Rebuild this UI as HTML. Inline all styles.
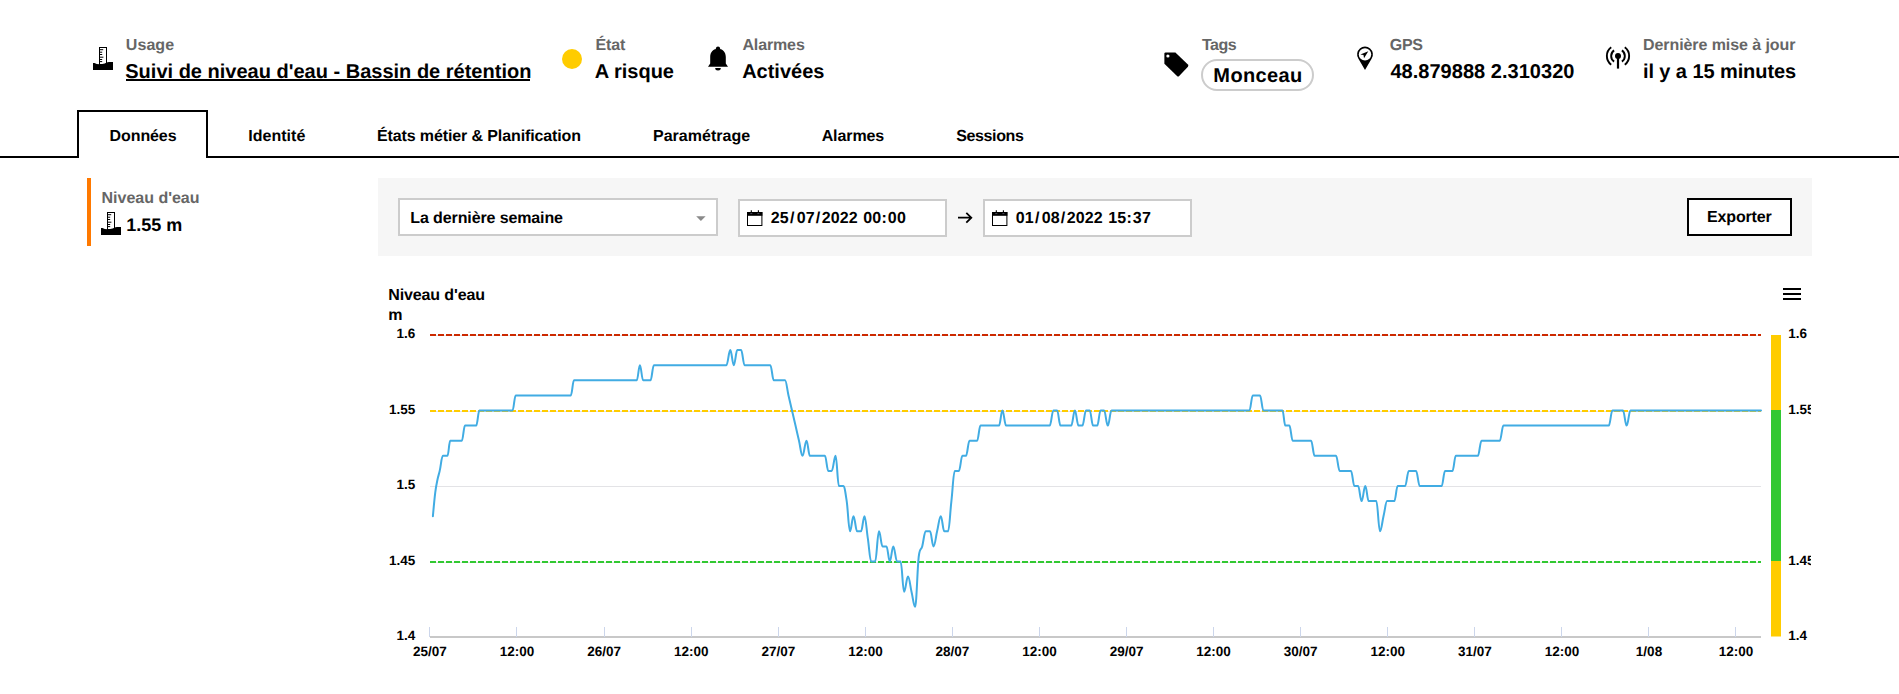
<!DOCTYPE html>
<html lang="fr"><head><meta charset="utf-8"><title>Suivi de niveau d'eau - Bassin de rétention</title>
<style>
*{margin:0;padding:0;box-sizing:border-box}
html,body{width:1899px;height:694px;overflow:hidden;background:#fff}
body{font-family:"Liberation Sans",sans-serif;font-weight:bold;color:#000;position:relative;text-rendering:geometricPrecision}
.t{position:absolute;display:block;white-space:nowrap;line-height:1;color:inherit;text-decoration:none}
header,nav,aside,main,section{display:block;position:static}
.t.lbl{color:#666}
.abs{position:absolute}
</style></head><body>

<!-- tab lines -->
<div class="abs" style="left:0;top:156px;width:79px;height:2px;background:#000"></div>
<div class="abs" style="left:206px;top:156px;width:1693px;height:2px;background:#000"></div>
<div class="abs" style="left:77px;top:110px;width:131px;height:48px;border:2px solid #000;border-bottom:none"></div>
<!-- title underline -->
<div class="abs" style="left:126px;top:79px;width:404px;height:2px;background:#000"></div>
<!-- yellow dot -->
<div class="abs" style="left:562px;top:49px;width:20px;height:20px;border-radius:50%;background:#ffcc00"></div>
<!-- tag pill -->
<div class="abs" style="left:1201px;top:59px;width:113px;height:32px;border:2px solid #ccc;border-radius:16px"></div>
<!-- orange bar -->
<div class="abs" style="left:87px;top:178px;width:4px;height:68px;background:#ff7900"></div>
<!-- filter bar -->
<div class="abs" style="left:378px;top:178px;width:1434px;height:78px;background:#f6f6f6"></div>
<div class="abs" style="left:398px;top:198px;width:320px;height:38px;border:2px solid #ccc;background:#fff"></div>
<div class="abs" style="left:738px;top:199px;width:209px;height:38px;border:2px solid #ccc;background:#fff"></div>
<div class="abs" style="left:983px;top:199px;width:209px;height:38px;border:2px solid #ccc;background:#fff"></div>
<div class="abs" style="left:1687px;top:198px;width:105px;height:38px;border:2px solid #000;background:#fff"></div>

<header>
<span class="t lbl" style="left:125.83px;top:38px;font-size:16px;letter-spacing:0.063px">Usage</span>
<span class="t " style="left:125.29px;top:62px;font-size:20px;letter-spacing:0.003px">Suivi de niveau d'eau - Bassin de rétention</span>
<span class="t lbl" style="left:595.38px;top:38px;font-size:16px;letter-spacing:-0.115px">État</span>
<span class="t " style="left:594.69px;top:62px;font-size:20px;letter-spacing:0.003px">A risque</span>
<span class="t lbl" style="left:742.46px;top:38px;font-size:16px;letter-spacing:-0.138px">Alarmes</span>
<span class="t " style="left:742.17px;top:62px;font-size:20px;letter-spacing:-0.01px">Activées</span>
<span class="t lbl" style="left:1202.0px;top:38px;font-size:16px;letter-spacing:-0.466px">Tags</span>
<span class="t " style="left:1213.37px;top:66px;font-size:20px;letter-spacing:0.373px">Monceau</span>
<span class="t lbl" style="left:1389.86px;top:38px;font-size:16px;letter-spacing:-0.421px">GPS</span>
<span class="t " style="left:1390.39px;top:62px;font-size:20px;letter-spacing:0.031px">48.879888 2.310320</span>
<span class="t lbl" style="left:1642.96px;top:38px;font-size:16px;letter-spacing:-0.068px">Dernière mise à jour</span>
<span class="t " style="left:1642.91px;top:62px;font-size:20px;letter-spacing:-0.08px">il y a 15 minutes</span>
</header>
<nav>
<a class="t " style="left:109.6px;top:129px;font-size:16px;letter-spacing:-0.106px">Données</a>
<a class="t " style="left:248.37px;top:129px;font-size:16px;letter-spacing:0.005px">Identité</a>
<a class="t " style="left:376.98px;top:129px;font-size:16px;letter-spacing:-0.114px">États métier &amp; Planification</a>
<a class="t " style="left:652.98px;top:129px;font-size:16px;letter-spacing:0.028px">Paramétrage</a>
<a class="t " style="left:821.64px;top:129px;font-size:16px;letter-spacing:-0.084px">Alarmes</a>
<a class="t " style="left:956.33px;top:129px;font-size:16px;letter-spacing:-0.4px">Sessions</a>
</nav>
<aside>
<span class="t lbl" style="left:101.5px;top:191px;font-size:16px;letter-spacing:-0.002px">Niveau d'eau</span>
<span class="t " style="left:126.27px;top:216px;font-size:18px;letter-spacing:0.003px">1.55 m</span>
</aside>
<main>
<section class="filters">
<span class="t " style="left:410.37px;top:211px;font-size:16px;letter-spacing:-0.119px">La dernière semaine</span>
<span class="t " style="left:770.75px;top:211px;font-size:16px;letter-spacing:0.15px">25</span>
<span class="t " style="left:790.0px;top:211px;font-size:16px;letter-spacing:0px">/</span>
<span class="t " style="left:796.65px;top:211px;font-size:16px;letter-spacing:0.15px">07</span>
<span class="t " style="left:815.63px;top:211px;font-size:16px;letter-spacing:0px">/</span>
<span class="t " style="left:821.65px;top:211px;font-size:16px;letter-spacing:0.15px">2022</span>
<span class="t " style="left:863.25px;top:211px;font-size:16px;letter-spacing:0.15px">00</span>
<span class="t " style="left:881.6px;top:211px;font-size:16px;letter-spacing:0px">:</span>
<span class="t " style="left:887.85px;top:211px;font-size:16px;letter-spacing:0.15px">00</span>
<span class="t " style="left:1706.98px;top:210px;font-size:16px;letter-spacing:-0.142px">Exporter</span>
<span class="t" style="left:1015.75px;top:211px;font-size:16px;letter-spacing:0.15px">01</span>
<span class="t" style="left:1035.0px;top:211px;font-size:16px;letter-spacing:0px">/</span>
<span class="t" style="left:1041.65px;top:211px;font-size:16px;letter-spacing:0.15px">08</span>
<span class="t" style="left:1060.63px;top:211px;font-size:16px;letter-spacing:0px">/</span>
<span class="t" style="left:1066.65px;top:211px;font-size:16px;letter-spacing:0.15px">2022</span>
<span class="t" style="left:1108.25px;top:211px;font-size:16px;letter-spacing:0.15px">15</span>
<span class="t" style="left:1126.6px;top:211px;font-size:16px;letter-spacing:0px">:</span>
<span class="t" style="left:1132.85px;top:211px;font-size:16px;letter-spacing:0.15px">37</span>
</section>
<section class="chart">
<span class="t " style="left:388.21px;top:288px;font-size:16px;letter-spacing:-0.11px">Niveau d'eau</span>
<span class="t " style="left:388.24px;top:308px;font-size:16px;letter-spacing:0px">m</span>
<svg class="abs" style="left:0;top:270px" width="1811" height="424" viewBox="0 270 1811 424" font-family="Liberation Sans, sans-serif" font-weight="bold" text-rendering="geometricPrecision">
<path d="M430 335.5H1761M430 411.5H1761M430 486.5H1761M430 562.5H1761" stroke="#e3e3e6" stroke-width="1"/>
<path d="M430 637H1761" stroke="#c8c8c8" stroke-width="2"/>
<path d="M429.5 627V637M516.5 627V637M604.5 627V637M691.5 627V637M778.5 627V637M865.5 627V637M952.5 627V637M1039.5 627V637M1126.5 627V637M1213.5 627V637M1300.5 627V637M1387.5 627V637M1474.5 627V637M1561.5 627V637M1648.5 627V637M1735.5 627V637" stroke="#ccd6eb" stroke-width="1"/>
<path d="M430 335H1761" stroke="#cc2900" stroke-width="2" stroke-dasharray="6 2"/>
<path d="M430 411H1761" stroke="#ffcc00" stroke-width="2" stroke-dasharray="6 2"/>
<path d="M430 562H1761" stroke="#32c832" stroke-width="2" stroke-dasharray="6 2"/>
<path d="M432.9 516.2C432.9 516.2 434.3 500.2 435.2 492.8C436.1 485.7 436.5 484.3 437.4 480.0C438.3 475.5 438.8 474.9 439.7 470.9C441.0 465.3 441.6 455.8 442.9 455.8L447.5 455.8C448.6 455.8 449.1 440.7 450.2 440.7L461.8 440.7C463.1 440.7 463.7 425.6 465.0 425.6L476.2 425.6C477.5 425.6 478.1 410.5 479.4 410.5L512.5 410.5C513.8 410.5 514.4 395.4 515.7 395.4L570.8 395.4C572.1 395.4 572.7 380.3 574.0 380.3L636.8 380.3C638.0 380.3 638.7 365.2 639.9 365.2C641.2 365.2 641.8 380.3 643.1 380.3L650.5 380.3C651.9 380.3 652.5 365.2 653.9 365.2L726.4 365.2C728.0 365.2 728.7 350.1 730.3 350.1C731.7 350.1 732.4 365.2 733.8 365.2C735.2 365.2 735.9 350.1 737.3 350.1L741.1 350.1C742.5 350.1 743.2 365.2 744.6 365.2L770.3 365.2C771.7 365.2 772.4 380.3 773.8 380.3L785.0 380.3C786.4 380.3 787.1 389.4 788.5 395.4C789.9 401.4 790.6 404.5 792.0 410.5C793.4 416.5 794.1 419.6 795.5 425.6C796.9 431.6 797.6 434.7 799.0 440.7C800.4 446.7 801.1 455.8 802.5 455.8C804.1 455.8 804.9 440.7 806.5 440.7C807.9 440.7 808.5 455.8 809.9 455.8L824.9 455.8C826.3 455.8 826.9 470.9 828.3 470.9L831.7 470.9C833.3 470.9 834.0 455.8 835.6 455.8C836.9 455.8 837.6 486.0 838.9 486.0L843.2 486.0C844.6 486.0 845.3 491.8 846.7 501.1C848.0 509.9 848.7 531.3 850.0 531.3C851.4 531.3 852.1 516.2 853.5 516.2C854.9 516.2 855.7 531.3 857.1 531.3L861.0 531.3C862.4 531.3 863.1 516.2 864.5 516.2C865.8 516.2 866.5 529.8 867.9 538.9C869.2 547.9 869.9 561.5 871.2 561.5L875.1 561.5C876.7 561.5 877.4 531.3 879.0 531.3C880.4 531.3 881.1 546.4 882.5 546.4L886.5 546.4C887.8 546.4 888.5 561.5 889.8 561.5C891.2 561.5 891.9 546.4 893.3 546.4C894.8 546.4 895.6 561.5 897.1 561.5L900.6 561.5C902.0 561.5 902.7 591.7 904.1 591.7C905.7 591.7 906.4 576.6 908.0 576.6C909.4 576.6 910.1 585.7 911.5 591.7C913.0 597.7 913.7 606.8 915.1 606.8C916.6 606.8 917.4 564.6 918.9 555.5C920.2 546.4 920.9 551.1 922.2 546.4C923.6 541.4 924.3 531.3 925.7 531.3L930.0 531.3C931.4 531.3 932.1 546.4 933.5 546.4C935.0 546.4 935.7 537.3 937.1 531.3C938.6 525.3 939.3 516.2 940.8 516.2C942.2 516.2 942.9 531.3 944.3 531.3L948.0 531.3C949.4 531.3 950.0 513.2 951.4 501.1C952.8 489.0 953.4 470.9 954.8 470.9L958.9 470.9C960.3 470.9 961.0 455.8 962.4 455.8L966.0 455.8C967.4 455.8 968.1 440.7 969.5 440.7L977.1 440.7C978.5 440.7 979.1 425.6 980.5 425.6L999.0 425.6C1000.4 425.6 1001.0 410.5 1002.4 410.5C1003.9 410.5 1004.6 425.6 1006.1 425.6L1049.7 425.6C1051.2 425.6 1051.9 410.5 1053.4 410.5L1057.1 410.5C1058.5 410.5 1059.1 425.6 1060.5 425.6L1071.2 425.6C1072.7 425.6 1073.4 410.5 1074.9 410.5C1076.3 410.5 1077.1 425.6 1078.5 425.6L1082.4 425.6C1083.8 425.6 1084.6 410.5 1086.0 410.5L1089.7 410.5C1091.1 410.5 1091.7 425.6 1093.1 425.6L1097.2 425.6C1098.6 425.6 1099.2 410.5 1100.6 410.5L1104.1 410.5C1105.6 410.5 1106.3 425.6 1107.8 425.6C1109.3 425.6 1110.0 410.5 1111.5 410.5L1249.4 410.5C1250.8 410.5 1251.4 395.4 1252.8 395.4L1260.0 395.4C1261.4 395.4 1262.0 410.5 1263.4 410.5L1282.5 410.5C1283.6 410.5 1284.2 425.6 1285.3 425.6L1289.4 425.6C1290.7 425.6 1291.4 440.7 1292.7 440.7L1311.1 440.7C1312.5 440.7 1313.2 455.8 1314.6 455.8L1336.0 455.8C1337.5 455.8 1338.2 470.9 1339.7 470.9L1351.0 470.9C1352.4 470.9 1353.0 486.0 1354.4 486.0L1358.1 486.0C1359.5 486.0 1360.2 501.1 1361.6 501.1C1363.1 501.1 1363.8 486.0 1365.3 486.0C1366.7 486.0 1367.3 501.1 1368.7 501.1L1376.3 501.1C1377.8 501.1 1378.5 531.3 1380.0 531.3C1381.4 531.3 1382.1 522.2 1383.5 516.2C1385.0 510.2 1385.7 501.1 1387.1 501.1L1394.3 501.1C1395.7 501.1 1396.3 486.0 1397.7 486.0L1405.1 486.0C1406.6 486.0 1407.3 470.9 1408.8 470.9L1416.1 470.9C1417.5 470.9 1418.3 486.0 1419.7 486.0L1441.7 486.0C1443.0 486.0 1443.7 470.9 1445.0 470.9L1452.5 470.9C1453.8 470.9 1454.5 455.8 1455.8 455.8L1477.9 455.8C1479.3 455.8 1480.1 440.7 1481.5 440.7L1499.8 440.7C1501.2 440.7 1502.0 425.6 1503.4 425.6L1608.8 425.6C1610.2 425.6 1611.0 410.5 1612.4 410.5L1623.0 410.5C1624.4 410.5 1625.2 425.6 1626.6 425.6C1628.2 425.6 1628.9 410.5 1630.5 410.5L1761.0 410.5" fill="none" stroke="#41ace3" stroke-width="2" stroke-linejoin="round" stroke-linecap="round"/>
<rect x="1771" y="335" width="10" height="301.5" fill="#ffcc00"/>
<rect x="1771" y="410" width="10" height="151" fill="#32c832"/>
<text x="415.3" y="338" font-size="13.5" text-anchor="end">1.6</text>
<text x="1788.3" y="338" font-size="13.5">1.6</text>
<text x="415.3" y="414" font-size="13.5" text-anchor="end">1.55</text>
<text x="1788.3" y="414" font-size="13.5">1.55</text>
<text x="415.3" y="489" font-size="13.5" text-anchor="end">1.5</text>
<text x="415.3" y="565" font-size="13.5" text-anchor="end">1.45</text>
<text x="1788.3" y="565" font-size="13.5">1.45</text>
<text x="415.3" y="640" font-size="13.5" text-anchor="end">1.4</text>
<text x="1788.3" y="640" font-size="13.5">1.4</text>
<text x="430.0" y="656" font-size="13.5" text-anchor="middle">25/07</text>
<text x="517.1" y="656" font-size="13.5" text-anchor="middle">12:00</text>
<text x="604.1" y="656" font-size="13.5" text-anchor="middle">26/07</text>
<text x="691.2" y="656" font-size="13.5" text-anchor="middle">12:00</text>
<text x="778.3" y="656" font-size="13.5" text-anchor="middle">27/07</text>
<text x="865.4" y="656" font-size="13.5" text-anchor="middle">12:00</text>
<text x="952.4" y="656" font-size="13.5" text-anchor="middle">28/07</text>
<text x="1039.5" y="656" font-size="13.5" text-anchor="middle">12:00</text>
<text x="1126.6" y="656" font-size="13.5" text-anchor="middle">29/07</text>
<text x="1213.6" y="656" font-size="13.5" text-anchor="middle">12:00</text>
<text x="1300.7" y="656" font-size="13.5" text-anchor="middle">30/07</text>
<text x="1387.8" y="656" font-size="13.5" text-anchor="middle">12:00</text>
<text x="1474.8" y="656" font-size="13.5" text-anchor="middle">31/07</text>
<text x="1561.9" y="656" font-size="13.5" text-anchor="middle">12:00</text>
<text x="1649.0" y="656" font-size="13.5" text-anchor="middle">1/08</text>
<text x="1736.0" y="656" font-size="13.5" text-anchor="middle">12:00</text>
</svg>
</section>
</main>
<svg class="abs" style="left:0;top:0" width="1899" height="694" viewBox="0 0 1899 694">
<defs>
<g id="gauge">
<rect x="6.5" y="0.5" width="7" height="17" fill="#fff" stroke="#000" stroke-width="1"/>
<path d="M7 2.7h3.2M7 5.2h2.2M7 7.5h2.2M7 10.2h3.4M7 12.5h2.2M7 14.6h2.2" stroke="#000" stroke-width="1"/>
<path d="M0 16H1.5Q4 17.6 8 17.2Q12 16.6 14.5 15.2L16 15H20V23H0Z" fill="#000"/>
</g>
<g id="cal">
<rect x="0.5" y="2.5" width="14.4" height="13" fill="#fff" stroke="#000" stroke-width="1"/>
<rect x="0" y="2" width="15.4" height="3.8" fill="#000"/>
<path d="M4.3 0.2v3.4M11.4 0.2v3.4" stroke="#000" stroke-width="1.1"/>
<path d="M3.3 3.6h2M10.4 3.6h2" stroke="#556" stroke-width="0.9"/>
</g>
</defs>
<!-- usage gauge icon -->
<use href="#gauge" x="93" y="47"/>
<!-- small gauge icon in left panel -->
<use href="#gauge" x="101" y="212"/>
<!-- bell -->
<g transform="translate(708,46.3)">
<circle cx="10" cy="2.3" r="2.1" fill="#000"/>
<path d="M2.2 17.2V10.6C2.2 5.6 5.4 2.4 10 2.4C14.6 2.4 17.8 5.6 17.8 10.6V17.2L20 20.5H0Z" fill="#000"/>
<path d="M7.2 21.7H12.8A2.8 2.5 0 0 1 7.2 21.7Z" fill="#000"/>
</g>
<!-- tag -->
<path d="M1165.6 52.4H1175.4L1187.9 64.5Q1188.9 65.6 1187.9 66.8L1179.2 75.9Q1178.1 76.9 1177 75.9L1164.4 63.8V53.6Q1164.4 52.4 1165.6 52.4Z" fill="#000"/>
<circle cx="1167.9" cy="56" r="1.6" fill="#fff"/>
<!-- gps pin -->
<g>
<path d="M1365 70L1358.3 58.6A7.9 7.9 0 1 1 1371.7 58.6Z" fill="#000"/>
<circle cx="1365" cy="54.4" r="6.2" fill="#fff"/>
<path d="M1368.3 51.3L1360.4 54.4L1363.5 55L1364 58.2Z" fill="#000"/>
</g>
<!-- antenna -->
<g fill="none" stroke="#000" stroke-width="1.9">
<circle cx="1618" cy="56" r="3" fill="#000" stroke="none"/>
<path d="M1618 56V68.6" stroke-width="2.2"/>
<path d="M1614.1 50.4A6.8 6.8 0 0 0 1614.1 61.6"/>
<path d="M1621.9 50.4A6.8 6.8 0 0 1 1621.9 61.6"/>
<path d="M1611.2 47.3A10.9 10.9 0 0 0 1611.2 64.7"/>
<path d="M1624.8 47.3A10.9 10.9 0 0 1 1624.8 64.7"/>
</g>
<!-- select caret -->
<path d="M696.2 216.2h9.4l-4.7 4.7z" fill="#8a8a8a"/>
<!-- calendar icons -->
<use href="#cal" x="747" y="210"/>
<use href="#cal" x="992" y="210"/>
<!-- arrow -->
<path d="M958 217.7H971M966.3 212.8L971.3 217.7L966.3 222.6" fill="none" stroke="#000" stroke-width="1.8"/>
<!-- hamburger -->
<path d="M1783 289h18M1783 294h18M1783 299h18" stroke="#000" stroke-width="2"/>
</svg>

</body></html>
